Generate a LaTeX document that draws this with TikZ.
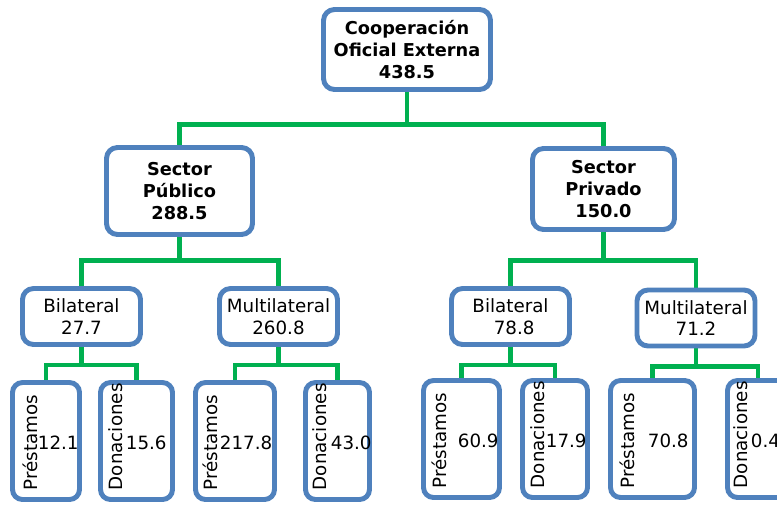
\documentclass[tikz,border=0pt]{standalone}
\usepackage{fontspec}
\setmainfont{DejaVu Sans}
\usepackage{xcolor}
\usepackage{tikz}
\usetikzlibrary{shapes,arrows,calc,positioning,backgrounds}

\definecolor{boxblue}{RGB}{79,129,189}
\definecolor{linkgreen}{RGB}{0,176,80}

\begin{document}
\begin{tikzpicture}[auto, node distance=2.5cm, font=\fontsize{10.4}{12.4}\selectfont]
\tikzset{block/.style = {draw=boxblue, line width=2.8pt, fill=white, rectangle,
  rounded corners=.22cm, align=center, inner sep=0pt},
  head/.style = {block, font=\bfseries\fontsize{10.1}{12.3}\selectfont},
  branch/.style = {block, minimum width=2.36cm, minimum height=1.12cm},
  leaf/.style = {block, rounded corners=.2cm, minimum height=2.34cm},
  kind/.style = {rotate=90, anchor=west, inner sep=0pt},
  amount/.style = {anchor=west, inner sep=0pt},
  link/.style = {draw=linkgreen, line width=2.5pt}}
\pgfdeclarelayer{background}
\pgfsetlayers{background,main}

  \useasboundingbox (0,0) rectangle (15.54,-10.1);

  \node[head, minimum width=3.34cm, minimum height=1.6cm] (coop)
    at (8.14,-.99) {Cooperación\\Oficial Externa\\438.5};

  \node[head, minimum width=2.92cm, minimum height=1.74cm,
    node distance=2.83cm, below of=coop, xshift=-4.55cm]
    (publico) {Sector\\Público\\288.5};
  \node[head, minimum width=2.84cm, minimum height=1.62cm,
    node distance=2.79cm, below of=coop, xshift=3.93cm]
    (privado) {Sector\\Privado\\150.0};

  \node[branch, node distance=2.51cm, below of=publico, xshift=-1.96cm]
    (bilpub) {Bilateral\\27.7};
  \node[branch, node distance=2.51cm, below of=publico, xshift=1.98cm]
    (multipub) {Multilateral\\260.8};
  \node[branch, node distance=2.55cm, below of=privado, xshift=-1.86cm]
    (bilpriv) {Bilateral\\\hspace*{.4em}78.8};
  \node[branch, node distance=2.58cm, below of=privado, xshift=1.85cm]
    (multipriv) {Multilateral\\71.2};

  % leaves
  \node[leaf, minimum width=1.34cm, node distance=2.49cm,
    below of=bilpub, xshift=-.71cm] (prestbilpub) {};
  \node[leaf, minimum width=1.44cm, node distance=2.49cm,
    below of=bilpub, xshift=1.10cm] (donbilpub) {};
  \node[leaf, minimum width=1.58cm, node distance=2.49cm,
    below of=multipub, xshift=-.87cm] (prestmultipub) {};
  \node[leaf, minimum width=1.28cm, node distance=2.49cm,
    below of=multipub, xshift=1.18cm] (donmultipub) {};
  \node[leaf, minimum width=1.52cm, node distance=2.45cm,
    below of=bilpriv, xshift=-.98cm] (prestbilpriv) {};
  \node[leaf, minimum width=1.30cm, node distance=2.45cm,
    below of=bilpriv, xshift=.89cm] (donbilpriv) {};
  \node[leaf, minimum width=1.68cm, node distance=2.42cm,
    below of=multipriv, xshift=-.87cm] (prestmultipriv) {};
  \node[leaf, minimum width=1.22cm, node distance=2.42cm,
    below of=multipriv, xshift=1.24cm] (donmultipriv) {};

  \node[kind] (prestbilpubtxt) at ($(prestbilpub.south west)+(.40,.23)$) {Préstamos};
  \node[amount] (prestbilpubval) at ($(prestbilpub.west)+(.55,-.04)$) {12.1};
  \node[kind] (donbilpubtxt) at ($(donbilpub.south west)+(.35,.23)$) {Donaciones};
  \node[amount] (donbilpubval) at ($(donbilpub.west)+(.55,-.04)$) {15.6};
  \node[kind] (prestmultipubtxt) at ($(prestmultipub.south west)+(.35,.23)$) {Préstamos};
  \node[amount] (prestmultipubval) at ($(prestmultipub.west)+(.53,-.04)$) {217.8};
  \node[kind] (donmultipubtxt) at ($(donmultipub.south west)+(.33,.23)$) {Donaciones};
  \node[amount] (donmultipubval) at ($(donmultipub.west)+(.55,-.04)$) {43.0};
  \node[kind] (prestbilprivtxt) at ($(prestbilpriv.south west)+(.37,.23)$) {Préstamos};
  \node[amount] (prestbilprivval) at ($(prestbilpriv.west)+(.73,-.04)$) {60.9};
  \node[kind] (donbilprivtxt) at ($(donbilpriv.south west)+(.35,.23)$) {Donaciones};
  \node[amount] (donbilprivval) at ($(donbilpriv.west)+(.51,-.04)$) {17.9};
  \node[kind] (prestmultiprivtxt) at ($(prestmultipriv.south west)+(.39,.23)$) {Préstamos};
  \node[amount] (prestmultiprivval) at ($(prestmultipriv.west)+(.79,-.04)$) {70.8};
  \node[kind] (donmultiprivtxt) at ($(donmultipriv.south west)+(.31,.23)$) {Donaciones};
  \node[amount] (donmultiprivval) at ($(donmultipriv.west)+(.51,-.04)$) {0.4};

  \begin{pgfonlayer}{background}
    \foreach \c in {publico,privado}
      \draw[link] (coop.south) -- ++(0,-.65) -| (\c.north);
    \foreach \c in {bilpub,multipub}
      \draw[link] (publico.south) -- ++(0,-.47) -| (\c.north);
    \foreach \c in {bilpriv,multipriv}
      \draw[link] (privado.south) -- ++(0,-.57) -| (\c.north);
    \foreach \p/\c in {bilpub/prestbilpub, bilpub/donbilpub,
      multipub/prestmultipub, multipub/donmultipub,
      bilpriv/prestbilpriv, bilpriv/donbilpriv,
      multipriv/prestmultipriv, multipriv/donmultipriv}
      \draw[link] (\p.south) -- ++(0,-.36) -| (\c.north);
  \end{pgfonlayer}

\end{tikzpicture}
\end{document}
